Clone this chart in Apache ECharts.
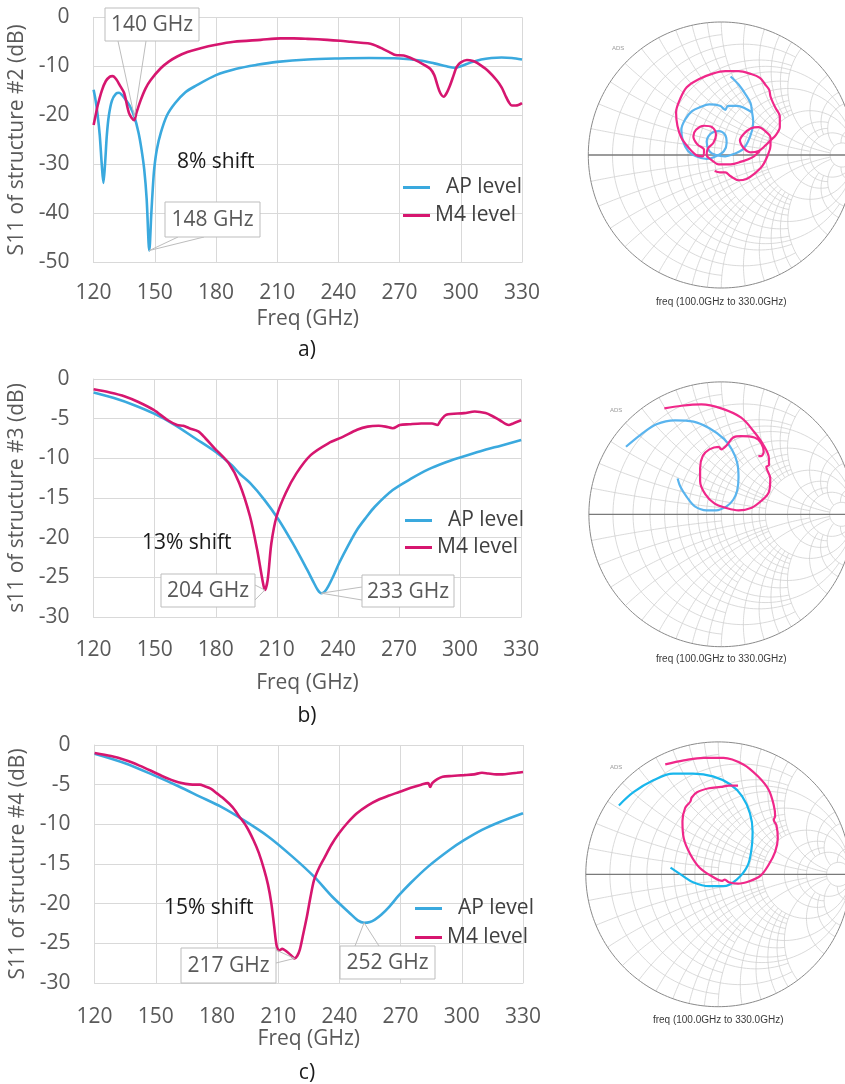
<!DOCTYPE html>
<html><head><meta charset="utf-8">
<script src="https://cdn.jsdelivr.net/npm/echarts@6/dist/echarts.min.js"></script>
<style>html,body{margin:0;padding:0;background:#fff}#c{width:845px;height:1084px}</style>
</head><body><div id="c"></div>
<script>
// ---------- data: S11 (dB) vs frequency (GHz) ----------
const apA = [[120,-14.8],[121,-17],[122,-20],[123,-24],[124,-30],[124.8,-33.8],[125.6,-30],[126.5,-24],[127.5,-20],[129,-17],[131,-15.6],[132.5,-15.4],[134,-15.9],[136,-17],[138,-18.3],[140,-20.3],[142,-23.5],[143.5,-27],[144.8,-31],[146,-37],[147.3,-47.6],[148.3,-40],[149,-35],[149.7,-31],[151,-27],[153,-23.5],[156,-20],[160,-17.5],[165,-15.3],[170,-14],[180,-11.8],[190,-10.5],[200,-9.7],[210,-9.1],[225,-8.6],[240,-8.4],[255,-8.3],[270,-8.4],[280,-8.8],[287,-9.4],[293,-10],[297,-10.3],[300,-10],[305,-9.2],[310,-8.6],[315,-8.3],[320,-8.2],[325,-8.3],[330,-8.6]];
const m4A = [[120,-22],[121,-20],[122,-18],[124,-15],[126,-13],[128,-12.1],[129.3,-12],[131,-12.6],[133,-14],[135,-15.5],[137.4,-19.6],[139.9,-21],[141,-19.5],[143,-17],[145.5,-14.5],[148,-12.8],[152.9,-10.4],[157,-9],[161,-8],[166,-7.1],[172.5,-6.3],[180,-5.6],[188.8,-5],[201.9,-4.6],[211.7,-4.3],[218,-4.3],[225,-4.4],[234.5,-4.6],[241,-4.8],[246,-5.0],[251,-5.2],[255.7,-5.4],[259,-5.9],[262,-6.5],[265,-7.1],[268,-7.7],[272,-7.8],[277,-8.6],[282,-9.7],[285,-10.5],[287,-11.8],[288.5,-13.8],[290,-15.5],[291.6,-16.2],[293,-15.5],[294.8,-13.8],[296.5,-11.8],[298,-10.1],[300,-9.2],[303,-8.7],[306,-8.9],[308,-9.3],[313,-10.8],[317.7,-12.9],[320,-14.3],[321.8,-15.9],[323.5,-17.3],[325,-18],[327,-18],[330,-17.5]];
const apB = [[120,-1.7],[130,-2.4],[140,-3.3],[150,-4.4],[160,-5.8],[170,-7.5],[180,-9.2],[188,-10.9],[192,-12],[196.8,-13.1],[203.8,-15.2],[210.8,-17.7],[217.8,-20.7],[224.8,-24],[228,-25.6],[230.1,-26.6],[231.8,-27],[233.5,-26.8],[235.3,-26.1],[238,-24.7],[240.6,-23.2],[245,-21],[249.4,-19],[254,-17.4],[258.1,-16.1],[266.9,-14],[275.7,-12.6],[284.4,-11.4],[293,-10.5],[300,-9.9],[310,-9.1],[320,-8.4],[330,-7.7]];
const m4B = [[120,-1.3],[128,-1.7],[135.4,-2.2],[142,-2.9],[149.5,-3.9],[156.5,-5.2],[161,-5.8],[164,-5.9],[167,-6.2],[171.4,-6.6],[175,-7.5],[179.3,-8.7],[186.3,-10.6],[191.5,-13.1],[196.8,-17.3],[200.3,-21.5],[202.9,-25.3],[204.1,-26.6],[205.5,-25.3],[207.3,-20.7],[209.9,-17.3],[214.3,-14.4],[219.6,-11.9],[226.6,-9.6],[235.3,-8.1],[242.4,-7.3],[249.4,-6.4],[254.6,-6.0],[260,-5.9],[263.4,-6.0],[266.9,-6.2],[270.4,-5.8],[275,-5.7],[280.9,-5.6],[286.2,-5.6],[288.8,-5.8],[290.5,-5.2],[293.2,-4.5],[302,-4.3],[307.2,-4.1],[312.5,-4.3],[316,-4.7],[319.5,-5.2],[323.9,-5.8],[326,-5.6],[330,-5.2]];
const apC = [[120,-1.1],[134.9,-2.3],[148.9,-3.8],[161.1,-5.2],[171.6,-6.5],[182.1,-7.8],[192.6,-9.4],[204.9,-11.5],[217.1,-14.1],[227.6,-16.6],[236.4,-19.1],[245.1,-21.2],[249,-22.1],[252.1,-22.4],[255,-22.3],[257.4,-22],[260.5,-21.4],[264.4,-20.4],[269,-19],[274.9,-17.4],[283.6,-15.3],[294.1,-13.2],[301.1,-12],[309.9,-10.7],[318.6,-9.7],[330,-8.6]];
const m4C = [[120,-1.0],[128,-1.4],[134.9,-1.9],[142,-2.6],[148.9,-3.4],[153,-3.9],[157.6,-4.4],[161,-4.7],[164.6,-4.9],[168,-5.0],[171.6,-5.0],[174,-5.2],[176.9,-5.5],[180,-6.1],[183.9,-6.9],[187.5,-7.8],[190.9,-9.0],[194.5,-10.3],[197.9,-12],[200.5,-13.6],[203.1,-15.7],[205,-17.6],[206.6,-19.9],[208,-22.8],[209.3,-25.4],[210.5,-25.9],[212,-25.7],[213.5,-25.9],[215.4,-26.3],[217,-26.7],[218,-26.9],[219.3,-26.6],[220.6,-25.8],[222.3,-23.8],[224.1,-21.6],[225.8,-19.2],[227.6,-17],[230,-15.5],[232.9,-14.1],[236,-12.6],[239.9,-11.1],[244,-9.8],[248.6,-8.6],[254,-7.6],[259.1,-6.9],[264,-6.4],[269.6,-5.9],[275,-5.4],[280.1,-5.0],[283.5,-4.8],[284.5,-5.3],[285.5,-4.8],[288,-4.3],[290.6,-4.0],[295,-3.9],[301.1,-3.8],[306,-3.7],[309.9,-3.5],[313,-3.6],[316.9,-3.7],[320,-3.7],[323.9,-3.6],[327,-3.5],[330,-3.4]];

// ---------- data: Smith chart traces (reflection coefficient, re/im) ----------
const smithA_AP = [[0.07,0.59],[0.13,0.53],[0.18,0.46],[0.22,0.39],[0.23,0.33],[0.24,0.25],[0.23,0.18],[0.20,0.10],[0.16,0.04],[0.10,0.01],[0.03,-0.01],[-0.04,0.00],[-0.09,0.03],[-0.11,0.10],[-0.08,0.16],[-0.02,0.18],[0.03,0.15],[0.04,0.09],[0.02,0.03],[-0.04,-0.01],[-0.11,-0.03],[-0.19,-0.01],[-0.25,0.03],[-0.29,0.11],[-0.30,0.19],[-0.27,0.27],[-0.22,0.33],[-0.16,0.36],[-0.09,0.38],[-0.01,0.37],[0.03,0.34],[0.05,0.37],[0.12,0.37],[0.18,0.35],[0.23,0.32]];
const smithA_M4 = [[-0.05,-0.12],[-0.01,-0.13],[0.03,-0.13],[0.07,-0.16],[0.13,-0.19],[0.19,-0.18],[0.25,-0.14],[0.31,-0.08],[0.35,0.00],[0.37,0.07],[0.37,0.13],[0.33,0.18],[0.28,0.21],[0.22,0.20],[0.17,0.16],[0.14,0.11],[0.17,0.05],[0.22,0.02],[0.28,0.03],[0.33,0.07],[0.37,0.11],[0.41,0.15],[0.44,0.21],[0.44,0.29],[0.41,0.35],[0.39,0.39],[0.37,0.44],[0.36,0.49],[0.33,0.53],[0.29,0.58],[0.22,0.61],[0.13,0.63],[0.03,0.63],[-0.07,0.61],[-0.17,0.57],[-0.26,0.51],[-0.31,0.42],[-0.34,0.32],[-0.33,0.22],[-0.30,0.13],[-0.25,0.06],[-0.19,0.00],[-0.14,-0.01],[-0.13,0.04],[-0.18,0.08],[-0.21,0.14],[-0.19,0.19],[-0.13,0.22],[-0.07,0.21],[-0.04,0.15],[-0.06,0.09],[-0.10,0.05],[-0.11,0.00],[-0.07,-0.04],[-0.02,-0.07],[0.07,-0.07],[0.15,-0.05],[0.23,-0.02],[0.29,0.03]];
const smithB_AP = [[-0.72,0.51],[-0.61,0.60],[-0.49,0.68],[-0.35,0.71],[-0.21,0.70],[-0.09,0.65],[0.02,0.57],[0.08,0.49],[0.12,0.39],[0.13,0.28],[0.12,0.18],[0.09,0.11],[0.04,0.06],[-0.04,0.03],[-0.11,0.03],[-0.20,0.06],[-0.26,0.13],[-0.31,0.21],[-0.33,0.27]];
const smithB_M4 = [[-0.43,0.80],[-0.30,0.82],[-0.15,0.83],[0.00,0.80],[0.15,0.73],[0.25,0.62],[0.32,0.52],[0.36,0.42],[0.36,0.37],[0.34,0.36],[0.37,0.27],[0.36,0.17],[0.30,0.10],[0.23,0.05],[0.13,0.03],[0.03,0.05],[-0.05,0.08],[-0.12,0.15],[-0.16,0.25],[-0.16,0.35],[-0.14,0.44],[-0.09,0.49],[-0.02,0.51],[0.00,0.49],[0.04,0.52],[0.09,0.58],[0.15,0.59],[0.25,0.58],[0.30,0.54],[0.32,0.47],[0.30,0.44],[0.28,0.44]];
const smithC_AP = [[-0.75,0.52],[-0.64,0.62],[-0.49,0.71],[-0.34,0.76],[-0.19,0.76],[-0.04,0.74],[0.09,0.68],[0.18,0.59],[0.24,0.46],[0.26,0.32],[0.25,0.18],[0.22,0.06],[0.14,-0.04],[0.04,-0.09],[-0.07,-0.09],[-0.19,-0.06],[-0.27,-0.01],[-0.36,0.05]];
const smithC_M4 = [[-0.40,0.83],[-0.26,0.86],[-0.11,0.88],[0.04,0.88],[0.19,0.83],[0.30,0.74],[0.38,0.64],[0.42,0.52],[0.43,0.44],[0.42,0.41],[0.44,0.37],[0.45,0.27],[0.43,0.17],[0.38,0.07],[0.32,-0.01],[0.24,-0.05],[0.15,-0.07],[0.08,-0.06],[0.05,-0.04],[0.03,-0.05],[-0.04,-0.02],[-0.14,0.05],[-0.21,0.15],[-0.26,0.27],[-0.27,0.40],[-0.25,0.50],[-0.21,0.55],[-0.20,0.58],[-0.16,0.62],[-0.07,0.65],[0.02,0.66],[0.08,0.67],[0.15,0.67]];

// ---------- labels ----------
const xTickMin = 120, xTickMax = 330, xTickStep = 30;
const yTitles = ['S11 of structure #2 (dB)', 's11 of structure #3 (dB)', 'S11 of structure #4 (dB)'];
const yMins = [-50, -30, -30];
const ySteps = [10, 5, 5];
const seriesNames = ['AP level', 'M4 level'];
const panelLabels = ['a)', 'b)', 'c)'];
const shiftTexts = ['8% shift', '13% shift', '15% shift'];
const calloutTexts = [['140 GHz', '148 GHz'], ['204 GHz', '233 GHz'], ['217 GHz', '252 GHz']];
const calloutTargets = [[[140, -20.3], [147.3, -47.6]], [[204.1, -26.6], [231.8, -27]], [[218, -26.9], [252.1, -22.4]]];
const smithCaption = 'freq (100.0GHz to 330.0GHz)';
// Smith grid: [value, max extent of the other coordinate]
const smithR = [[0.1,1],[0.2,2],[0.3,1],[0.4,2],[0.5,5],[0.6,2],[0.7,1],[0.8,2],[0.9,1],[1,99],[1.2,2],[1.4,2],[1.6,2],[1.8,2],[2,99],[3,5],[4,5],[5,99],[10,99]];
const smithX = [[0.1,1],[0.2,2],[0.3,1],[0.4,2],[0.5,5],[0.6,2],[0.7,1],[0.8,2],[0.9,1],[1,10],[1.2,2],[1.4,2],[1.6,2],[1.8,2],[2,10],[3,5],[4,5],[5,10],[10,10]];

// ---------- layout ----------
const FONT = 'Open Sans';
const GRAY = '#595959';
const AP_COLOR = '#3aa9de', M4_COLOR = '#d6166f';
const lineGrids = [
  {left: 93.6, top: 17.3, width: 428.4, height: 245},
  {left: 93.6, top: 379, width: 427.6, height: 238},
  {left: 94.6, top: 745, width: 428.4, height: 238}
];
const smithGrids = [
  {cx: 721.3, cy: 155, r: 133},
  {cx: 721.3, cy: 514.3, r: 132.4},
  {cx: 718.2, cy: 874.3, r: 132.4}
];
const legendPos = [{left: 398, top: 172, gap: 7}, {left: 400, top: 505, gap: 6}, {left: 410, top: 893, gap: 8}];
const xNameGap = [46, 56, 46];
const xLabelMargin = [20, 23, 24];
const yNameGap = [53, 51, 54];

const chart = echarts.init(document.getElementById('c'), null, {renderer: 'canvas'});

const grid = [], xAxis = [], yAxis = [], series = [], legend = [];
lineGrids.forEach((g, i) => {
  grid.push(Object.assign({outerBoundsMode: 'none', containLabel: false}, g));
  xAxis.push({
    type: 'value', gridIndex: i, min: xTickMin, max: xTickMax, interval: xTickStep,
    name: 'Freq (GHz)', nameLocation: 'middle', nameGap: xNameGap[i],
    nameTextStyle: {fontFamily: FONT, fontSize: 21, color: GRAY},
    axisLine: {show: true, onZero: false, lineStyle: {color: '#d9d9d9', width: 1}},
    axisTick: {show: false},
    axisLabel: {fontFamily: FONT, fontSize: 21, color: GRAY, margin: xLabelMargin[i]},
    splitLine: {show: true, lineStyle: {color: '#d9d9d9', width: 1}}
  });
  yAxis.push({
    type: 'value', gridIndex: i, min: yMins[i], max: 0, interval: ySteps[i],
    name: yTitles[i], nameLocation: 'middle', nameGap: yNameGap[i], nameRotate: 90,
    nameTextStyle: {fontFamily: FONT, fontSize: 21, color: GRAY},
    axisLine: {show: true, lineStyle: {color: '#d9d9d9', width: 1}},
    axisTick: {show: false},
    axisLabel: {fontFamily: FONT, fontSize: 21, color: GRAY, margin: 24},
    splitLine: {show: true, lineStyle: {color: '#d9d9d9', width: 1}}
  });
  legend.push({
    orient: 'vertical', left: legendPos[i].left, top: legendPos[i].top, itemGap: legendPos[i].gap,
    icon: 'rect', itemWidth: 27, itemHeight: 3, selectedMode: false,
    data: seriesNames,
    formatter: n => (n === 'AP level' ? '  ' + n : n),
    textStyle: {fontFamily: FONT, fontSize: 21, lineHeight: 21, color: '#404040'}
  });
});

const lineData = [[apA, m4A], [apB, m4B], [apC, m4C]];
lineData.forEach((pair, i) => {
  pair.forEach((d, k) => {
    series.push({
      type: 'line', name: seriesNames[k], xAxisIndex: i, yAxisIndex: i, data: d,
      showSymbol: false, symbol: 'none', smooth: 0.3, animation: false,
      lineStyle: {color: k === 0 ? AP_COLOR : M4_COLOR, width: 2.6},
      itemStyle: {color: k === 0 ? AP_COLOR : M4_COLOR}
    });
  });
});

// Smith chart grids (reflection coefficient plane)
function gammaOf(r, x) {
  const d = (r + 1) * (r + 1) + x * x;
  return [(r * r - 1 + x * x) / d, 2 * x / d];
}
function smithLines() {
  const curves = [];
  smithR.forEach(([r, xmax]) => {
    const pts = [];
    const N = 160;
    for (let k = 0; k <= N; k++) {
      const x = Math.tan((k / N - 0.5) * Math.PI * 0.999) ;
      const xx = Math.max(-xmax, Math.min(xmax, x));
      pts.push(gammaOf(r, xx));
    }
    curves.push(pts);
  });
  smithX.forEach(([x, rmax]) => {
    [x, -x].forEach(xx => {
      const pts = [];
      const N = 120;
      for (let k = 0; k <= N; k++) {
        const t = k / N;
        const r = rmax * Math.pow(t, 2);
        pts.push(gammaOf(r, xx));
      }
      curves.push(pts);
    });
  });
  return curves;
}
const gridCurves = smithLines();
const unitCircle = [];
for (let k = 0; k <= 240; k++) { const t = k / 240 * 2 * Math.PI; unitCircle.push([Math.cos(t), Math.sin(t)]); }

const smithData = [[smithA_AP, smithA_M4], [smithB_AP, smithB_M4], [smithC_AP, smithC_M4]];
const smithColors = [['#5ab4ee', '#f0288a'], ['#5ab4ee', '#f0288a'], ['#19b6ec', '#f0288a']];
smithGrids.forEach((s, j) => {
  const gi = 3 + j;
  grid.push({outerBoundsMode: 'none', containLabel: false, left: s.cx - s.r, top: s.cy - s.r, width: 2 * s.r, height: 2 * s.r});
  xAxis.push({type: 'value', gridIndex: gi, min: -1, max: 1, show: false});
  yAxis.push({type: 'value', gridIndex: gi, min: -1, max: 1, show: false});
  gridCurves.forEach(c => series.push({
    type: 'line', xAxisIndex: gi, yAxisIndex: gi, data: c, showSymbol: false, symbol: 'none',
    silent: true, animation: false, clip: false, lineStyle: {color: '#d0d0d0', width: 0.8}, z: 1
  }));
  series.push({type: 'line', xAxisIndex: gi, yAxisIndex: gi, data: unitCircle, showSymbol: false, symbol: 'none',
    silent: true, animation: false, clip: false, lineStyle: {color: '#8a8a8a', width: 1}, z: 2});
  series.push({type: 'line', xAxisIndex: gi, yAxisIndex: gi, data: [[-1, 0], [1, 0]], showSymbol: false, symbol: 'none',
    silent: true, animation: false, clip: false, lineStyle: {color: '#7a7a7a', width: 1.3}, z: 2});
  smithData[j].forEach((d, k) => series.push({
    type: 'line', name: 'smith ' + j + '-' + k, xAxisIndex: gi, yAxisIndex: gi, data: d, showSymbol: false, symbol: 'none',
    smooth: 0.35, silent: true, animation: false, clip: false,
    lineStyle: {color: smithColors[j][k], width: 2.2}, z: 3
  }));
});

chart.setOption({animation: false, backgroundColor: '#fff', grid, xAxis, yAxis, series, legend});

// ---------- annotations ----------
const calloutBoxes = [
  [{box: [105, 8, 94, 33], anchors: [[118, 41], [146, 41]]}, {box: [165, 202, 95, 35], anchors: [[178, 237], [204, 237]]}],
  [{box: [161, 574, 94, 33], anchors: [[255, 585], [255, 600]]}, {box: [362, 575, 92, 32], anchors: [[362, 587], [362, 600]]}],
  [{box: [181, 948, 95, 35], anchors: [[276, 950], [276, 963]]}, {box: [340, 946, 95, 33], anchors: [[355, 946], [379, 946]]}]
];
const shiftPos = [[177, 162], [142, 543], [164, 908]];
const panelPos = [[307, 350], [307, 716], [307, 1073]];

const graphic = [];
calloutBoxes.forEach((pair, i) => {
  pair.forEach((c, k) => {
    const p = chart.convertToPixel({gridIndex: i}, calloutTargets[i][k]);
    graphic.push({type: 'polyline', z: 50, silent: true,
      shape: {points: [c.anchors[0], p, c.anchors[1]]},
      style: {fill: null, stroke: '#bdbdbd', lineWidth: 1}});
    graphic.push({type: 'rect', z: 51, silent: true,
      shape: {x: c.box[0], y: c.box[1], width: c.box[2], height: c.box[3]},
      style: {fill: '#fff', stroke: '#bdbdbd', lineWidth: 1}});
    graphic.push({type: 'text', z: 52, silent: true, x: c.box[0] + c.box[2] / 2, y: c.box[1] + c.box[3] / 2 + 1,
      style: {text: calloutTexts[i][k], fontFamily: FONT, fontSize: 21, fill: GRAY,
        align: 'center', verticalAlign: 'middle', textAlign: 'center', textVerticalAlign: 'middle'}});
  });
  graphic.push({type: 'text', z: 52, silent: true, x: shiftPos[i][0], y: shiftPos[i][1],
    style: {text: shiftTexts[i], fontFamily: FONT, fontSize: 21, fill: '#1a1a1a',
      align: 'left', verticalAlign: 'middle', textAlign: 'left', textVerticalAlign: 'middle'}});
  graphic.push({type: 'text', z: 52, silent: true, x: panelPos[i][0], y: panelPos[i][1],
    style: {text: panelLabels[i], fontFamily: FONT, fontSize: 21, fill: '#1a1a1a',
      align: 'center', verticalAlign: 'middle', textAlign: 'center', textVerticalAlign: 'middle'}});
});
const captionY = [302, 659, 1020];
const adsPos = [[612, 48], [610, 410], [610, 767]];
smithGrids.forEach((s, j) => {
  graphic.push({type: 'text', z: 52, silent: true, x: s.cx, y: captionY[j],
    style: {text: smithCaption, fontFamily: 'Liberation Sans', fontSize: 10, fill: '#3a3a3a',
      align: 'center', verticalAlign: 'middle', textAlign: 'center', textVerticalAlign: 'middle'}});
  graphic.push({type: 'text', z: 52, silent: true, x: adsPos[j][0], y: adsPos[j][1],
    style: {text: 'ADS', fontFamily: 'Liberation Sans', fontSize: 6, fill: '#9a9a9a',
      align: 'left', verticalAlign: 'middle', textAlign: 'left', textVerticalAlign: 'middle'}});
});
chart.setOption({graphic});
</script>
</body></html>
